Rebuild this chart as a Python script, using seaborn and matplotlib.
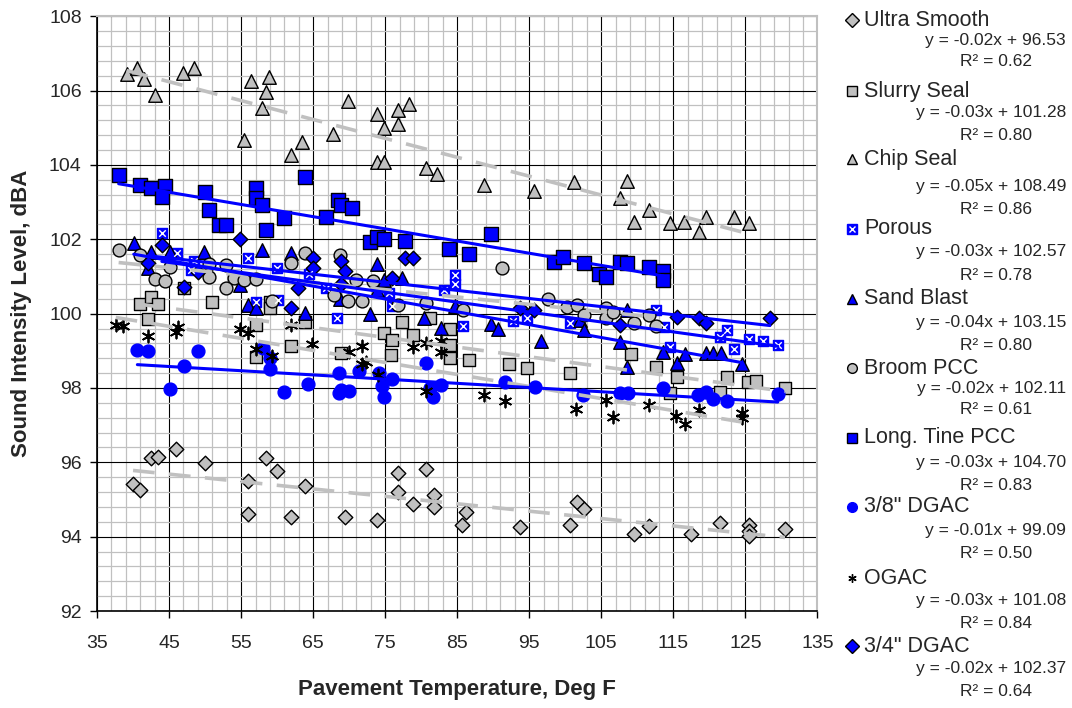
import numpy as np
import pandas as pd
import matplotlib
matplotlib.use('Agg')
import matplotlib.pyplot as plt
from matplotlib.lines import Line2D
import seaborn as sns

# ---- data (temperature deg F, dBA) ----
ultra_t = [40.0, 41.0, 42.5, 43.5, 46.0, 50.0, 55.9, 55.9, 58.5, 60.0, 63.9, 61.9, 69.4, 73.8, 76.8, 76.8,
           78.8, 80.7, 81.8, 81.8, 86.2, 85.7, 93.7, 100.6, 101.6, 102.6, 109.6, 111.6, 117.5, 121.5,
           125.5, 125.5, 125.5, 130.5]
ultra_y = [95.42, 95.26, 96.11, 96.15, 96.35, 95.99, 95.50, 94.61, 96.11, 95.77, 95.35, 94.52, 94.52, 94.45,
           95.71, 95.19, 94.88, 95.81, 95.12, 94.81, 94.67, 94.31, 94.25, 94.32, 94.92, 94.74, 94.07, 94.29,
           94.07, 94.38, 94.32, 94.16, 94.02, 94.20]

slurry_t = [41.0, 42.5, 43.5, 42.1, 47.1, 51.0, 59.0, 59.0, 57.0, 63.9, 61.9, 57.0, 68.9, 74.8, 75.9, 75.8,
            77.4, 78.9, 81.2, 84.0, 84.0, 84.0, 86.7, 92.2, 94.7, 100.6, 109.1, 112.6, 115.5, 114.5, 121.5,
            122.5, 125.4, 126.5, 130.5]
slurry_y = [100.26, 100.46, 100.26, 99.85, 100.68, 100.30, 100.32, 100.14, 99.69, 99.78, 99.13, 98.84, 98.93,
            99.49, 99.29, 98.89, 99.78, 99.42, 99.87, 99.60, 99.16, 98.80, 98.75, 98.65, 98.53, 98.39, 98.91,
            98.57, 98.30, 97.86, 97.90, 98.29, 98.17, 98.20, 98.00]

chip_t = [39.1, 40.6, 41.5, 43.1, 47.0, 48.4, 55.4, 56.4, 57.9, 58.4, 58.9, 61.9, 63.4, 67.8, 69.8, 73.8,
          73.8, 74.8, 74.8, 76.8, 76.8, 78.3, 80.7, 82.2, 88.7, 95.6, 101.2, 107.6, 108.6, 109.6, 111.6,
          114.5, 116.5, 118.5, 119.5, 123.4, 125.5]
chip_y = [106.46, 106.62, 106.30, 105.87, 106.48, 106.62, 104.67, 106.26, 105.52, 105.97, 106.37, 104.26,
          104.62, 104.83, 105.72, 105.37, 104.07, 105.00, 104.07, 105.49, 105.10, 105.63, 103.93, 103.75,
          103.46, 103.30, 103.55, 103.10, 103.57, 102.47, 102.78, 102.44, 102.47, 102.20, 102.60, 102.60, 102.43]

porous_t = [44.0, 46.1, 48.4, 48.1, 55.9, 60.0, 64.4, 66.8, 57.0, 60.1, 68.3, 75.6, 75.9, 83.2, 84.7, 84.7,
            85.8, 92.7, 94.7, 100.6, 112.6, 113.7, 114.5, 121.5, 122.4, 123.4, 125.5, 127.5, 129.5]
porous_y = [102.18, 101.62, 101.41, 101.17, 101.51, 101.24, 101.06, 100.68, 100.32, 100.37, 99.87, 100.55,
            100.20, 100.63, 101.04, 100.81, 99.67, 99.81, 99.87, 99.76, 100.10, 99.65, 99.11, 99.38, 99.56,
            99.04, 99.33, 99.27, 99.16]

sand_t = [40.1, 42.5, 42.1, 45.1, 49.9, 57.9, 61.9, 54.9, 55.9, 57.0, 63.9, 73.8, 74.8, 77.4, 73.8, 68.7,
          72.9, 80.4, 82.8, 84.7, 89.7, 90.7, 96.6, 102.0, 102.6, 107.6, 108.6, 108.6, 113.6, 115.5, 116.6,
          119.5, 120.5, 121.6, 124.5]
sand_y = [101.89, 101.66, 101.22, 101.66, 101.66, 101.71, 101.62, 100.77, 100.23, 100.14, 100.02, 101.33,
          100.90, 100.95, 100.63, 100.39, 99.99, 99.87, 99.62, 100.20, 99.72, 99.60, 99.27, 99.83, 99.56,
          99.24, 100.10, 98.57, 98.98, 98.68, 98.91, 98.93, 98.93, 98.93, 98.64]

broom_t = [38.0, 41.0, 43.1, 44.5, 45.1, 50.5, 50.5, 52.9, 54.0, 55.4, 57.0, 52.9, 59.3, 61.9, 63.9, 67.9,
           68.7, 70.9, 73.3, 69.8, 71.8, 76.8, 80.7, 85.8, 91.2, 97.6, 100.2, 101.6, 102.6, 105.6, 105.6,
           106.6, 109.6, 111.6, 112.6]
broom_y = [101.71, 101.58, 100.92, 100.89, 101.26, 101.33, 100.99, 101.31, 100.97, 100.90, 100.92, 100.68,
           100.35, 101.35, 101.64, 100.51, 101.58, 100.90, 100.89, 100.35, 100.35, 100.23, 100.28, 100.10,
           101.24, 100.39, 100.19, 100.23, 99.96, 100.14, 99.89, 100.05, 99.74, 99.96, 99.67]

tine_t = [38.0, 41.0, 42.5, 44.5, 44.0, 50.0, 50.5, 57.0, 57.0, 57.9, 63.9, 68.4, 51.9, 52.9, 58.4, 60.9,
          66.8, 68.9, 70.4, 72.9, 73.8, 74.8, 77.8, 83.8, 86.7, 89.7, 98.5, 99.7, 102.6, 104.7, 105.6,
          107.6, 108.6, 111.6, 113.6, 113.6]
tine_y = [103.74, 103.46, 103.37, 103.44, 103.14, 103.28, 102.80, 103.37, 103.10, 102.92, 103.68, 103.05,
          102.38, 102.38, 102.25, 102.56, 102.59, 102.92, 102.83, 101.93, 102.05, 102.00, 101.96, 101.73,
          101.60, 102.13, 101.40, 101.53, 101.37, 101.08, 100.99, 101.40, 101.37, 101.26, 101.15, 100.90]

dgac38_t = [40.6, 42.1, 49.0, 47.1, 45.1, 58.0, 59.0, 59.0, 60.9, 64.3, 68.6, 68.6, 68.9, 70.0, 71.4, 74.2,
            75.9, 74.5, 74.8, 80.7, 81.2, 81.7, 82.8, 91.7, 95.8, 102.5, 107.6, 108.7, 113.6, 118.4, 119.5,
            120.5, 122.5, 129.5]
dgac38_y = [99.02, 99.00, 99.00, 98.59, 97.96, 99.07, 98.80, 98.50, 97.88, 98.11, 98.39, 97.87, 97.95, 97.93,
            98.46, 98.39, 98.23, 98.04, 97.77, 98.66, 97.99, 97.77, 98.08, 98.17, 98.02, 97.81, 97.86, 97.87,
            97.99, 97.81, 97.90, 97.70, 97.66, 97.83]

ogac_t = [37.6, 38.6, 42.1, 46.2, 46.0, 54.9, 55.9, 57.0, 59.3, 61.9, 64.9, 70.0, 71.8, 71.8, 72.4, 74.0,
          78.8, 80.7, 82.8, 82.8, 80.7, 88.7, 91.7, 101.5, 105.6, 106.6, 111.6, 115.4, 116.6, 118.5, 124.5, 124.5]
ogac_y = [99.69, 99.67, 99.40, 99.65, 99.51, 99.58, 99.49, 99.04, 98.86, 99.69, 99.18, 98.98, 99.13, 98.65,
          98.71, 98.35, 99.11, 99.20, 99.27, 98.98, 97.93, 97.81, 97.66, 97.44, 97.68, 97.23, 97.54, 97.25,
          97.02, 97.41, 97.32, 97.19]

dgac34_t = [44.0, 42.1, 47.1, 49.0, 54.9, 62.9, 61.9, 65.0, 65.0, 68.9, 69.4, 68.9, 75.9, 77.8, 78.9, 93.7,
            95.6, 107.6, 115.5, 118.5, 119.5, 128.4]
dgac34_y = [101.84, 101.35, 100.71, 101.13, 102.00, 100.68, 100.14, 101.51, 101.23, 101.41, 101.15, 100.80,
            100.97, 101.49, 101.49, 100.14, 100.10, 99.69, 99.92, 99.87, 99.74, 99.87]

names = ['Ultra Smooth', 'Slurry Seal', 'Chip Seal', 'Porous', 'Sand Blast', 'Broom PCC',
         'Long. Tine PCC', '3/8" DGAC', 'OGAC', '3/4" DGAC']
equations = ['y = -0.02x + 96.53', 'y = -0.03x + 101.28', 'y = -0.05x + 108.49', 'y = -0.03x + 102.57',
             'y = -0.04x + 103.15', 'y = -0.02x + 102.11', 'y = -0.03x + 104.70', 'y = -0.01x + 99.09',
             'y = -0.03x + 101.08', 'y = -0.02x + 102.37']
r_squared = ['0.62', '0.80', '0.86', '0.78', '0.80', '0.61', '0.83', '0.50', '0.84', '0.64']

x_ticks = [35, 45, 55, 65, 75, 85, 95, 105, 115, 125, 135]
y_ticks = [92, 94, 96, 98, 100, 102, 104, 106, 108]

temps = [ultra_t, slurry_t, chip_t, porous_t, sand_t, broom_t, tine_t, dgac38_t, ogac_t, dgac34_t]
levels = [ultra_y, slurry_y, chip_y, porous_y, sand_y, broom_y, tine_y, dgac38_y, ogac_y, dgac34_y]

GRAY = '#c0c0c0'
BLUE = '#0000ff'
styles = {
    'Ultra Smooth':   dict(marker='D', fc=GRAY, ec='black', s=55, blue=False),
    'Slurry Seal':    dict(marker='s', fc=GRAY, ec='black', s=85, blue=False),
    'Chip Seal':      dict(marker='^', fc=GRAY, ec='black', s=95, blue=False),
    'Porous':         dict(marker='s', fc=BLUE, ec=BLUE, s=50, blue=True),
    'Sand Blast':     dict(marker='^', fc=BLUE, ec='black', s=95, blue=True),
    'Broom PCC':      dict(marker='o', fc=GRAY, ec='black', s=85, blue=False),
    'Long. Tine PCC': dict(marker='s', fc=BLUE, ec='black', s=95, blue=True),
    '3/8" DGAC':      dict(marker='o', fc=BLUE, ec=BLUE, s=85, blue=True),
    'OGAC':           dict(marker=(6, 2, 0), fc='black', ec='black', s=75, blue=False),
    '3/4" DGAC':      dict(marker='D', fc=BLUE, ec='black', s=55, blue=True),
}

df = pd.concat([pd.DataFrame({'Temp': t, 'dBA': y, 'Surface': n})
                for n, t, y in zip(names, temps, levels)], ignore_index=True)

sns.set_style('white')
plt.rcParams['font.family'] = ['Liberation Sans', 'DejaVu Sans']

fig = plt.figure(figsize=(10.72, 7.08), dpi=100)
ax = fig.add_axes([0.0905, 0.137, 0.672, 0.840])

for n in names:
    st = styles[n]
    sub = df[df['Surface'] == n]
    sns.scatterplot(data=sub, x='Temp', y='dBA', ax=ax, marker=st['marker'], color=st['fc'],
                    edgecolor=st['ec'], linewidth=1.0 if n != 'OGAC' else 1.3, s=st['s'],
                    zorder=3, legend=False)
    if n == 'Porous':
        sns.scatterplot(data=sub, x='Temp', y='dBA', ax=ax, marker='x', color='white',
                        linewidth=1.0, s=22, zorder=3.5, legend=False)

for n in names:
    st = styles[n]
    sub = df[df['Surface'] == n]
    if st['blue']:
        kws = dict(color=BLUE, lw=2.2, zorder=4)
    else:
        kws = dict(color=GRAY, lw=2.6, dashes=(6, 4), zorder=3.8)
    sns.regplot(data=sub, x='Temp', y='dBA', ax=ax, scatter=False, ci=None, truncate=True,
                line_kws=kws)

ax.set_xlim(35, 135)
ax.set_ylim(92, 108)
ax.set_xticks(x_ticks)
ax.set_xticks(np.arange(35, 136, 2), minor=True)
ax.set_yticks(y_ticks)
ax.set_yticks(np.linspace(92, 108, 41), minor=True)
ax.grid(True, which='minor', color=GRAY, lw=0.9, zorder=0)
ax.grid(True, which='major', color='black', lw=0.8, zorder=0.5)
ax.set_axisbelow(True)
ax.tick_params(axis='both', which='major', labelsize=14, length=5, width=1, color='black',
               direction='out', bottom=True, left=True, pad=12)
ax.tick_params(axis='y', pad=6)
ax.tick_params(which='minor', length=0)
for side in ['left', 'bottom']:
    ax.spines[side].set_color('black')
    ax.spines[side].set_linewidth(1.2)
for side in ['top', 'right']:
    ax.spines[side].set_color(GRAY)
    ax.spines[side].set_linewidth(1.5)

ax.set_xlabel('Pavement Temperature, Deg F', fontsize=16, fontweight='bold', labelpad=20)
ax.set_ylabel('Sound Intensity Level, dBA', fontsize=16, fontweight='bold', labelpad=12)

# legend block on the right (pixel rows)
name_rows = [20, 91, 159, 229, 299, 368, 438, 507, 578, 646]
eq_rows = [40, 112, 186, 252, 322, 389, 462, 531, 601, 669]
r2_rows = [62, 135, 210, 275, 346, 409, 485, 553, 624, 692]
H = 708.0
for n, eq, r2, yn, ye, yr in zip(names, equations, r_squared, name_rows, eq_rows, r2_rows):
    st = styles[n]
    fig.add_artist(Line2D([852 / 1072], [1 - yn / H], marker=st['marker'], color='none',
                          markerfacecolor=st['fc'], markeredgecolor=st['ec'],
                          markersize=7 if n != 'OGAC' else 6, markeredgewidth=1.0))
    if n == 'Porous':
        fig.add_artist(Line2D([852 / 1072], [1 - yn / H], marker='x', color='none',
                              markeredgecolor='white', markersize=4, markeredgewidth=1.0))
    fig.text(864 / 1072, 1 - yn / H, n, fontsize=15.5, ha='left', va='center')
    fig.text(1066 / 1072, 1 - ye / H, eq, fontsize=12.5, ha='right', va='center')
    fig.text(996 / 1072, 1 - yr / H, f'R\u00b2 = {r2}', fontsize=12.5, ha='center', va='center')

fig.savefig('out.png', dpi=100)
